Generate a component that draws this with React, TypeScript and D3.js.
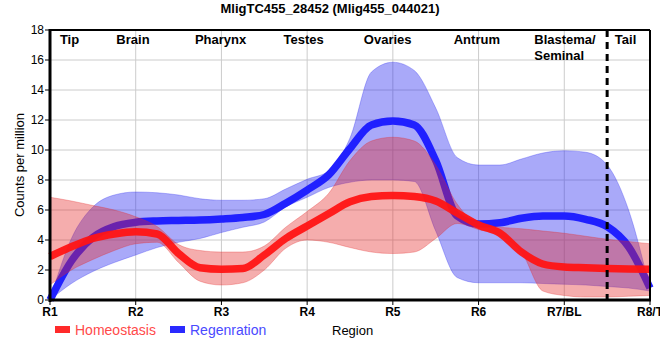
import * as d3 from 'd3';

// sample positions along the region axis (0 = R1 ... 7 = R8/T)
const positions = [0, 0.25, 0.5, 0.75, 1, 1.25, 1.5, 1.75, 2, 2.25, 2.5, 2.75, 3, 3.25, 3.5, 3.75, 4, 4.25, 4.5, 4.75, 5, 5.25, 5.5, 5.75, 6, 6.25, 6.5, 6.75, 7];

const homeo = [2.9, 3.55, 4.1, 4.4, 4.55, 4.4, 3.1, 2.15, 2.05, 2.1, 3.0, 4.1, 4.93, 5.75, 6.55, 6.9, 6.97, 6.9, 6.6, 5.8, 5.0, 4.45, 3.2, 2.4, 2.2, 2.15, 2.1, 2.07, 2.05];
const homeoHi = [6.85, 6.6, 6.3, 6.0, 5.55, 4.9, 3.7, 3.3, 3.2, 3.2, 3.6, 4.85, 5.9, 7.1, 9.3, 10.6, 10.85, 10.6, 9.0, 6.4, 5.05, 4.85, 4.75, 4.6, 4.45, 4.25, 4.05, 3.9, 3.75];
const homeoLo = [1.0, 2.0, 2.7, 3.3, 3.75, 3.85, 2.5, 1.25, 1.0, 1.15, 2.0, 3.45, 4.0, 3.85, 3.5, 3.2, 3.1, 3.2, 4.1, 5.1, 4.7, 4.3, 3.2, 0.6, 0.3, 0.2, 0.2, 0.25, 0.3];

const regen = [0, 2.6, 4.18, 4.9, 5.18, 5.27, 5.3, 5.33, 5.4, 5.5, 5.7, 6.45, 7.33, 8.33, 10.1, 11.67, 11.93, 11.67, 9.3, 5.6, 5.07, 5.15, 5.45, 5.6, 5.6, 5.38, 4.9, 3.55, 0.8];
const regenHi = [0, 4.1, 6.2, 7.0, 7.2, 7.15, 7.0, 6.75, 6.65, 6.65, 6.75, 7.4, 8.05, 8.6, 10.8, 15.2, 15.85, 15.3, 12.8, 9.5, 9.0, 9.0, 9.4, 9.8, 9.95, 9.85, 9.0, 6.0, 0.7];
const regenLo = [0, 1.1, 1.9, 2.5, 3.0, 3.5, 3.85, 4.1, 4.5, 4.85, 5.2, 6.2, 6.85, 7.5, 7.85, 8.0, 8.0, 7.9, 4.6, 1.5, 1.15, 1.15, 1.15, 1.1, 1.05, 1.0, 0.9, 0.8, 0.6];

const xLabels = ['R1', 'R2', 'R3', 'R4', 'R5', 'R6', 'R7/BL', 'R8/T'];
const yTicks = [0, 2, 4, 6, 8, 10, 12, 14, 16, 18];
const regionNames = ['Tip', 'Brain', 'Pharynx', 'Testes', 'Ovaries', 'Antrum', 'Blastema/', 'Tail'];
const regionPos = [0.228, 0.968, 1.99, 2.96, 3.94, 4.98, 5.65, 6.715];
const tailBoundary = 6.5;

const FONT = 'Liberation Sans, Arial, sans-serif';

export default function App() {
  const x = d3.scaleLinear().domain([0, 7]).range([50, 650]);
  const y = d3.scaleLinear().domain([0, 18]).range([300, 30]);

  const line = (vals: number[]) =>
    d3.line<number>().x((_, i) => x(positions[i])).y(d => y(d)).curve(d3.curveMonotoneX)(vals) || '';
  const band = (lo: number[], hi: number[]) =>
    d3.area<number>()
      .x((_, i) => x(positions[i]))
      .y0((_, i) => y(lo[i]))
      .y1((_, i) => y(hi[i]))
      .curve(d3.curveMonotoneX)(positions) || '';

  return (
    <svg width={660} height={360} style={{ position: 'absolute', left: 0, top: 0, background: '#fff' }} fontFamily={FONT}>
      <text x={330} y={13} textAnchor="middle" fontSize={13} fontWeight="bold">MligTC455_28452 (Mlig455_044021)</text>

      {/* grid */}
      {yTicks.map(t => (
        <line key={'gy' + t} x1={x(0)} x2={x(7)} y1={y(t)} y2={y(t)} stroke="#cccccc" strokeWidth={1} />
      ))}
      {xLabels.map((_, i) => (
        <line key={'gx' + i} x1={x(i)} x2={x(i)} y1={y(0)} y2={y(18)} stroke="#cccccc" strokeWidth={1} />
      ))}

      {/* series: blue under red */}
      <path d={band(regenLo, regenHi)} fill="rgba(40,40,240,0.4)" stroke="rgba(40,40,240,0.3)" strokeWidth={1} />
      <path d={line(regen)} fill="none" stroke="#2020ff" strokeWidth={7.5} />
      <path d={band(homeoLo, homeoHi)} fill="rgba(230,40,40,0.38)" stroke="rgba(230,40,40,0.3)" strokeWidth={1} />
      <path d={line(homeo)} fill="none" stroke="rgba(255,20,20,0.95)" strokeWidth={7.5} />

      {/* frame */}
      <line x1={x(0)} x2={x(7)} y1={y(18)} y2={y(18)} stroke="#000" strokeWidth={2} />
      <line x1={x(7)} x2={x(7)} y1={y(18)} y2={y(0)} stroke="#000" strokeWidth={2} />
      <line x1={x(tailBoundary)} x2={x(tailBoundary)} y1={y(18)} y2={y(0)} stroke="#000" strokeWidth={3} strokeDasharray="7,5" />
      <line x1={x(0)} x2={x(0)} y1={y(18) - 1} y2={y(0) + 2} stroke="#000" strokeWidth={3} />
      <line x1={x(0) - 1} x2={x(7) + 1} y1={y(0)} y2={y(0)} stroke="#000" strokeWidth={3} />

      {/* y axis */}
      {yTicks.map(t => (
        <g key={'yt' + t}>
          <line x1={x(0) - 5} x2={x(0)} y1={y(t)} y2={y(t)} stroke="#000" strokeWidth={1} />
          <text x={x(0) - 6} y={y(t) + 4} textAnchor="end" fontSize={12}>{t}</text>
        </g>
      ))}
      <text transform={`translate(24,${y(9)}) rotate(-90)`} textAnchor="middle" fontSize={13}>Counts per million</text>

      {/* x axis */}
      {xLabels.map((l, i) => (
        <g key={'xt' + i}>
          <line x1={x(i)} x2={x(i)} y1={y(0)} y2={y(0) + 5} stroke="#000" strokeWidth={1} />
          <text x={x(i)} y={316} textAnchor="middle" fontSize={12} fontWeight="bold">{l}</text>
        </g>
      ))}
      <text x={332} y={335} fontSize={13}>Region</text>

      {/* region names */}
      {regionNames.map((n, i) => (
        <text key={n} x={x(regionPos[i])} y={44} textAnchor={n === 'Blastema/' ? 'start' : 'middle'} fontSize={13} fontWeight="bold">{n}</text>
      ))}
      <text x={x(regionPos[6])} y={60} fontSize={13} fontWeight="bold">Seminal</text>

      {/* legend */}
      <rect x={55} y={326} width={15} height={7} fill="#ff2a2a" />
      <text x={75} y={335} fontSize={14} fill="#ff4a4a">Homeostasis</text>
      <rect x={170} y={326} width={15} height={7} fill="#2a2aff" />
      <text x={190} y={335} fontSize={14} fill="#4a4aff">Regenration</text>
    </svg>
  );
}
